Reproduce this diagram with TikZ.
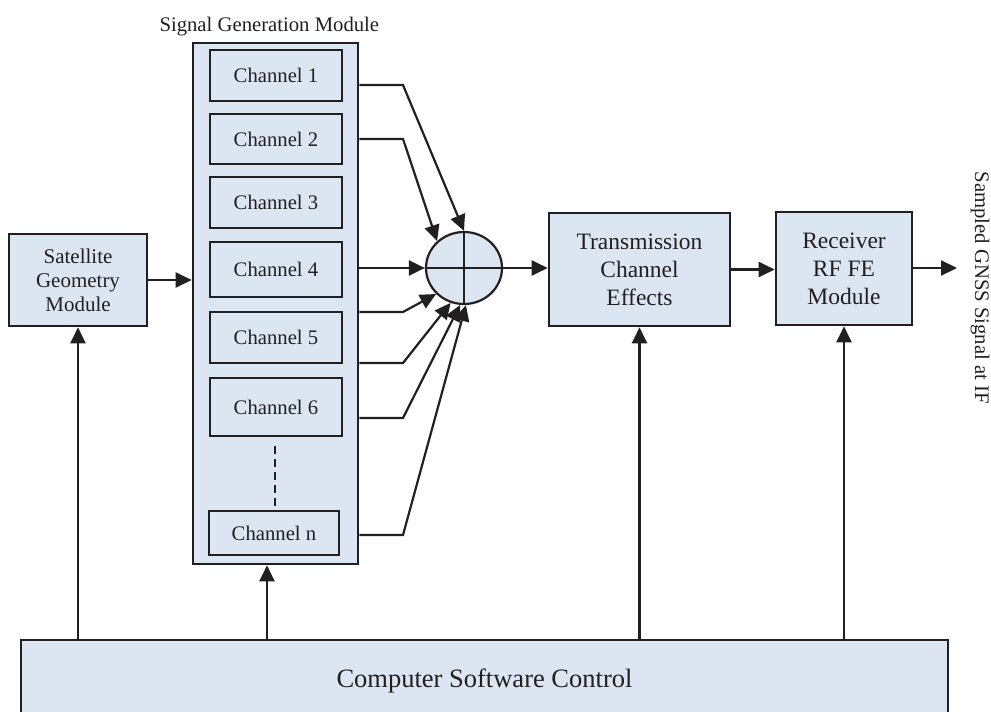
\documentclass[tikz,border=0pt]{standalone}
\usepackage{fontspec}
\setmainfont{Liberation Serif}
\usetikzlibrary{arrows.meta,shapes.geometric,calc}
\definecolor{boxfill}{RGB}{220,230,242}
\definecolor{ink}{RGB}{35,31,32}

\begin{document}
\begin{tikzpicture}[x=1pt,y=-1pt,
  blk/.style={draw=ink, fill=boxfill, line width=2.6pt, inner sep=0pt, align=center, text=ink},
  lbl/.style={font=\fontsize{20.7}{24}\selectfont},
  lblbig/.style={font=\fontsize{23.5}{28}\selectfont},
  lblhuge/.style={font=\fontsize{26.5}{30}\selectfont},
  chan/.style={blk, lbl, minimum width=132pt},
  wire/.style={draw=ink, line width=2.2pt},
  arr/.style={wire, -{Triangle[length=16pt,width=15pt]}},
]
\useasboundingbox (0,0) rectangle (991,712);

% satellite geometry block
\node[blk, font=\fontsize{21}{24}\selectfont, minimum width=138pt, minimum height=92pt] (sat) at (78,280) {Satellite\\Geometry\\Module};

% signal generation module with its channels
\node[blk, minimum width=165pt, minimum height=521pt] (sgm) at (275.5,303.5) {};
\node[lbl, text=ink, anchor=base west] (title) at (156,31) {Signal Generation Module};
\node[chan, minimum height=51pt] (ch1) at (276,75.5) {Channel 1};
\node[chan, minimum height=50pt] (ch2) at (276,139) {Channel 2};
\node[chan, minimum height=51pt] (ch3) at (276,202.5) {Channel 3};
\node[chan, minimum height=55pt] (ch4) at (276,269.5) {Channel 4};
\node[chan, minimum height=51pt] (ch5) at (276,337.5) {Channel 5};
\node[chan, minimum height=58pt] (ch6) at (276,407) {Channel 6};
\node[chan, minimum width=130pt, minimum height=44pt] (chn) at (274,533) {Channel n};
\draw[wire, dash pattern=on 8pt off 5pt] ($(ch6.south)+(-1,9)$) -- ($(chn.north)+(1,-4)$);

% summing junction
\node[blk, ellipse, line width=2.2pt, minimum width=76pt, minimum height=72pt] (sum) at (464,268) {};
\draw[wire] (sum.north) -- (sum.south) (sum.west) -- (sum.east);

% downstream blocks
\node[blk, lblbig, minimum width=181pt, minimum height=113pt] (trans) at (639.5,269.5) {Transmission\\Channel\\Effects};
\node[blk, lblbig, minimum width=136pt, minimum height=113pt] (recv) at (844,268.5) {Receiver\\RF FE\\Module};
\node[blk, lblhuge, minimum width=927pt, minimum height=82pt] (comp) at (484.5,681) {Computer Software Control};
\node[lbl, text=ink, rotate=-90, anchor=base west] (out) at (975,168) {Sampled GNSS Signal at IF};

% bend points of the channel outputs
\coordinate (k1) at (403,85);
\coordinate (k2) at (403,139);
\coordinate (k5) at (403,312);
\coordinate (k6) at (403,363);
\coordinate (k7) at (403,418);
\coordinate (k8) at (403,535);
\coordinate (o) at (957,268);
\coordinate (c2) at (267,640);

% signal path
\draw[arr] (sat.east) -- (sgm.west |- sat.east);
\draw[arr] (sgm.east |- k1) -- (k1) -- (sum.90);
\draw[arr] (sgm.east |- k2) -- (k2) -- (sum.135);
\draw[arr] (sgm.east |- sum.west) -- (sum.west);
\draw[arr] (sgm.east |- k5) -- (k5) -- (sum.-137);
\draw[arr] (sgm.east |- k6) -- (k6) -- (sum.-111);
\draw[arr] (sgm.east |- k7) -- (k7) -- (sum.-96);
\draw[arr] (sgm.east |- k8) -- (k8) -- (sum.-87);
\draw[arr] (sum.east) -- (trans.west |- sum.east);
\draw[arr] (trans.east) -- (recv.west |- trans.east);
\draw[arr] (recv.east |- o) -- (o);

% control lines
\draw[arr] (comp.north -| sat.south) -- (sat.south);
\draw[arr] (c2) -- (sgm.south -| c2);
\draw[arr] (comp.north -| trans.south) -- (trans.south);
\draw[arr] (comp.north -| recv.south) -- (recv.south);
\end{tikzpicture}
\end{document}
